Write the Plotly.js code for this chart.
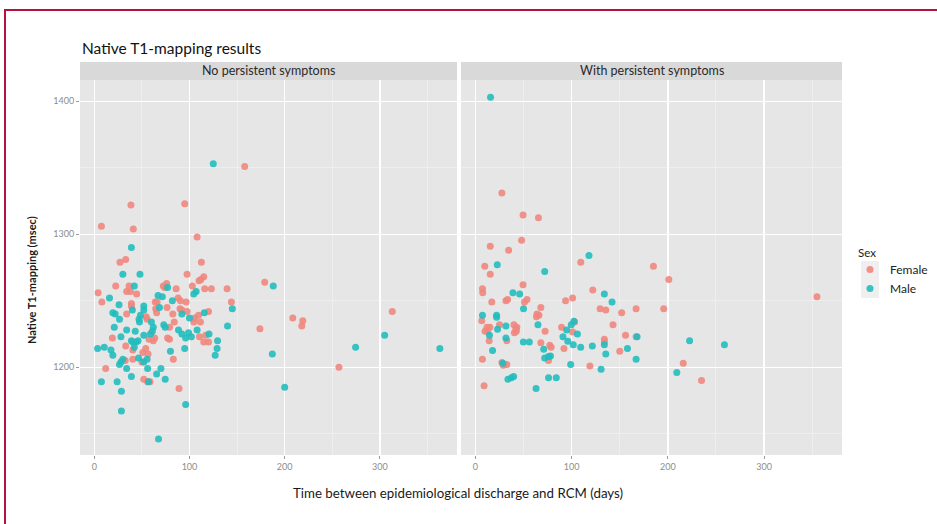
<!DOCTYPE html>
<html>
<head>
<meta charset="utf-8">
<script src="https://cdn.plot.ly/plotly-3.0.1.min.js"></script>
<style>
html,body{margin:0;padding:0;background:#fff;}
#chart{width:937px;height:524px;}
#frame{position:absolute;left:4px;top:9px;width:940px;height:520px;border-top:2px solid #B3143F;border-left:2px solid #B3143F;pointer-events:none;}
</style>
</head>
<body>
<div id="chart"></div>
<div id="frame"></div>
<script>
// ---- data ----
const panels = ["No persistent symptoms", "With persistent symptoms"];
const sexes = ["Female", "Male"];
const xTicks = [0, 100, 200, 300];
const yTicks = [1200, 1300, 1400];

const noSymFemaleX = [158,38.5,95,7.5,41,108,27,33,112.5,97.5,115,112,110,179,22.5,36.5,34,38,44.5,72.5,76,74,86,103,116,123,139.5,4,8,64,66,88,90.5,96.5,144,39,39,64.5,65.5,76.5,90,92,97.5,120,34,54.5,55.5,82.5,84,105.5,109.5,111.5,104.5,174,19,57.5,63.5,62,79,77,79,110.5,115,120,117,33,40.5,51,56.5,54,32.5,40.5,50,83,12,52,56,58.5,89,208.5,219,218,257,313];
const noSymFemaleY = [1351,1322,1323,1306,1304,1298,1279,1281,1279,1270,1268,1266,1265,1264,1261,1261,1257,1257,1255,1261,1263,1260,1259,1261,1259,1259,1259,1256,1249,1249,1249,1252,1250,1249,1249,1248,1246,1244,1241,1245,1244,1243,1242,1242,1240,1238,1236,1240,1234,1237,1239,1234,1234,1229,1222,1221,1222,1220,1230,1222,1221,1223,1219,1219,1224,1216,1213,1211,1210,1214,1205,1206,1204,1206,1199,1191,1189,1189,1184,1237,1235,1231,1200,1242];

const noSymMaleX = [125,39,30,48,42,77,107,104.5,16,26,67,71.5,82,145,52,52,68.5,115.5,19.5,22,26.5,40,48.5,47,47.5,60,62,92,100,108,140,21,34,43,28,39,46,44,40.5,52,59,61,73,74.5,88.5,92,96,99,102,120.5,129.5,95,80,129,127,3.5,10.5,17.5,19.5,42,30,28,26.5,46.5,52,55.5,34,56,70,65.5,39,74.5,57,7.5,24,28.5,96,28.5,67.5,188,187,200,274.5,305,363];
const noSymMaleY = [1353,1290,1270,1270,1261,1260,1257,1255,1252,1247,1254,1253,1250,1244,1246,1243,1245,1241,1241,1240,1236,1243,1239,1236,1234,1234,1230,1240,1237,1228,1231,1230,1228,1227,1223,1220,1220,1219,1219,1224,1225,1227,1232,1230,1228,1225,1222,1226,1223,1225,1220,1214,1212,1214,1209,1214,1215,1213,1209,1215,1206,1204,1202,1207,1204,1206,1199,1199,1199,1195,1193,1191,1189,1189,1189,1182,1172,1167,1146,1261,1210,1185,1215,1224,1214];

const withSymFemaleX = [27.5,49.5,65.5,48,15.4,34.5,109.5,9.7,185,15.4,49.5,7.3,7.6,17,31.7,33.4,51,53.6,68,93.7,101,122,129.6,135.5,167,152,143,6.6,25,12,15,10,12.5,14.3,40,42,43,40.5,42.5,32.7,64,66,63.4,72.4,7.3,27.5,32.7,29,9,78.7,77.3,76,68,89.5,101,103,92,119,134,134,150,156,167,201,195.7,216,235,355];
const withSymFemaleY = [1331,1314.5,1312.5,1295.5,1291,1288,1279,1276,1276,1270,1262,1259,1256,1249,1250,1251,1249,1251,1245,1250,1252,1258,1244,1243,1244,1241,1232,1235,1232,1230,1230,1227,1227,1220,1232,1229,1230,1226,1227,1220,1240,1239,1238,1227,1206,1203.5,1202,1201.5,1186,1215,1216.5,1205,1218.5,1230,1226.5,1234,1214,1201,1221,1219,1212,1224,1223,1266,1244,1203,1190,1253];

const withSymMaleX = [15.7,118,22.7,72,39,46,50,134,142,7.3,22,22,23,14.6,31.7,31.7,65,49.8,56,17.8,28.5,33.8,37.3,39.7,63,76,84,71,76,78,72,94.8,99.6,102.4,91,96,101.7,106,109.4,99,121.5,130.6,134,135.5,158,167,168,222.6,258.8,209.3];
const withSymMaleY = [1403,1284,1277,1272,1256,1255,1244,1255,1249,1239,1239,1237.5,1228.5,1224,1231,1222,1232,1219,1219,1212.5,1203,1191,1192,1193,1184,1192,1192,1213.5,1208,1208.5,1207,1228,1232,1234.5,1223,1219.5,1217,1225,1215,1202,1216,1198.5,1217,1210,1214,1206,1223,1220,1217,1196];

// ---- styling ----
const colors = {Female: '#EF877E', Male: '#22BDBE'};
const fontFam = 'Lato, "Open Sans", sans-serif';

function tr(x, y, sex, xa, show) {
  return {
    type: 'scatter', mode: 'markers', x: x, y: y, name: sex,
    xaxis: xa, yaxis: 'y', legendgroup: sex, showlegend: show,
    marker: {color: colors[sex], size: 7, opacity: 0.9, line: {width: 0}},
    hoverinfo: 'x+y'
  };
}

const data = [
  tr(noSymFemaleX, noSymFemaleY, sexes[0], 'x', true),
  tr(noSymMaleX, noSymMaleY, sexes[1], 'x', true),
  tr(withSymFemaleX, withSymFemaleY, sexes[0], 'x2', false),
  tr(withSymMaleX, withSymMaleY, sexes[1], 'x2', false)
];

const L = 80, R = 95, T = 62, B = 69, W = 937, H = 524;
const pw = W - L - R, ph = H - T - B;
const px = v => (v - L) / pw;          // page x -> paper x
const py = v => (H - B - v) / ph;      // page y -> paper y
const d1 = [0, px(457)], d2 = [px(461), 1];
const yTop = py(80);

const xBase = {
  range: [-15, 381], tickvals: xTicks, ticktext: xTicks.map(String),
  showgrid: true, gridcolor: '#FFFFFF', gridwidth: 1.3,
  minor: {tick0: 50, dtick: 100, showgrid: true, gridcolor: '#F4F4F4', gridwidth: 0.6, ticks: ''},
  zeroline: false, showline: false, ticks: 'outside', ticklen: 3, tickcolor: '#9A9A9A', tickwidth: 1,
  tickfont: {family: fontFam, size: 9, color: '#8C8C8C'}, anchor: 'y', fixedrange: true
};

const layout = {
  width: W, height: H,
  margin: {l: L, r: R, t: T, b: B, autoexpand: false},
  paper_bgcolor: '#FFFFFF', plot_bgcolor: '#E6E6E6',
  font: {family: fontFam},
  xaxis: Object.assign({}, xBase, {domain: d1}),
  xaxis2: Object.assign({}, xBase, {domain: d2}),
  yaxis: {
    domain: [0, yTop], range: [1134, 1416], tickvals: yTicks, ticktext: yTicks.map(String),
    showgrid: true, gridcolor: '#FFFFFF', gridwidth: 1.3,
    minor: {tick0: 1150, dtick: 100, showgrid: true, gridcolor: '#F4F4F4', gridwidth: 0.6, ticks: ''},
    zeroline: false, showline: false, ticks: 'outside', ticklen: 3, tickcolor: '#9A9A9A',
    tickfont: {family: fontFam, size: 9, color: '#8C8C8C'}, anchor: 'x', fixedrange: true
  },
  showlegend: true,
  legend: {
    x: px(850), xanchor: 'left', y: py(255), yanchor: 'top',
    bgcolor: 'rgba(0,0,0,0)', font: {family: fontFam, size: 12, color: '#222'},
    itemsizing: 'trace', tracegroupgap: 0
  },
  shapes: [
    {type: 'rect', xref: 'paper', yref: 'paper', x0: d1[0], x1: d1[1], y0: yTop, y1: 1, fillcolor: '#D9D9D9', line: {width: 0}, layer: 'below'},
    {type: 'rect', xref: 'paper', yref: 'paper', x0: d2[0], x1: d2[1], y0: yTop, y1: 1, fillcolor: '#D9D9D9', line: {width: 0}, layer: 'below'},
    {type: 'rect', xref: 'paper', yref: 'paper', x0: px(861), x1: px(879), y0: py(298), y1: py(261), fillcolor: '#EFEFEF', line: {width: 0}, layer: 'below'}
  ],
  annotations: [
    {text: panels[0], xref: 'paper', yref: 'paper', x: (d1[0] + d1[1]) / 2, y: (yTop + 1) / 2, showarrow: false, xanchor: 'center', yanchor: 'middle', font: {family: fontFam, size: 12.5, color: '#2A2A2A'}},
    {text: panels[1], xref: 'paper', yref: 'paper', x: (d2[0] + d2[1]) / 2, y: (yTop + 1) / 2, showarrow: false, xanchor: 'center', yanchor: 'middle', font: {family: fontFam, size: 12.5, color: '#2A2A2A'}},
    {text: 'Native T1-mapping results', xref: 'paper', yref: 'paper', x: 0, y: 1, yshift: 3, showarrow: false, xanchor: 'left', yanchor: 'bottom', font: {family: fontFam, size: 15.5, color: '#111'}},
    {text: 'Time between epidemiological discharge and RCM (days)', xref: 'paper', yref: 'paper', x: px(458), y: py(493), showarrow: false, xanchor: 'center', yanchor: 'middle', font: {family: fontFam, size: 13.3, color: '#1A1A1A'}},
    {text: '<b>Native T1-mapping (msec)</b>', xref: 'paper', yref: 'paper', x: px(31), y: py(280), textangle: -90, showarrow: false, xanchor: 'center', yanchor: 'middle', font: {family: fontFam, size: 11, color: '#1A1A1A'}},
    {text: 'Sex', xref: 'paper', yref: 'paper', x: px(856), y: py(253), showarrow: false, xanchor: 'left', yanchor: 'middle', font: {family: fontFam, size: 11.5, color: '#222'}}
  ]
};

Plotly.newPlot('chart', data, layout, {displayModeBar: false, staticPlot: true});
</script>
</body>
</html>
